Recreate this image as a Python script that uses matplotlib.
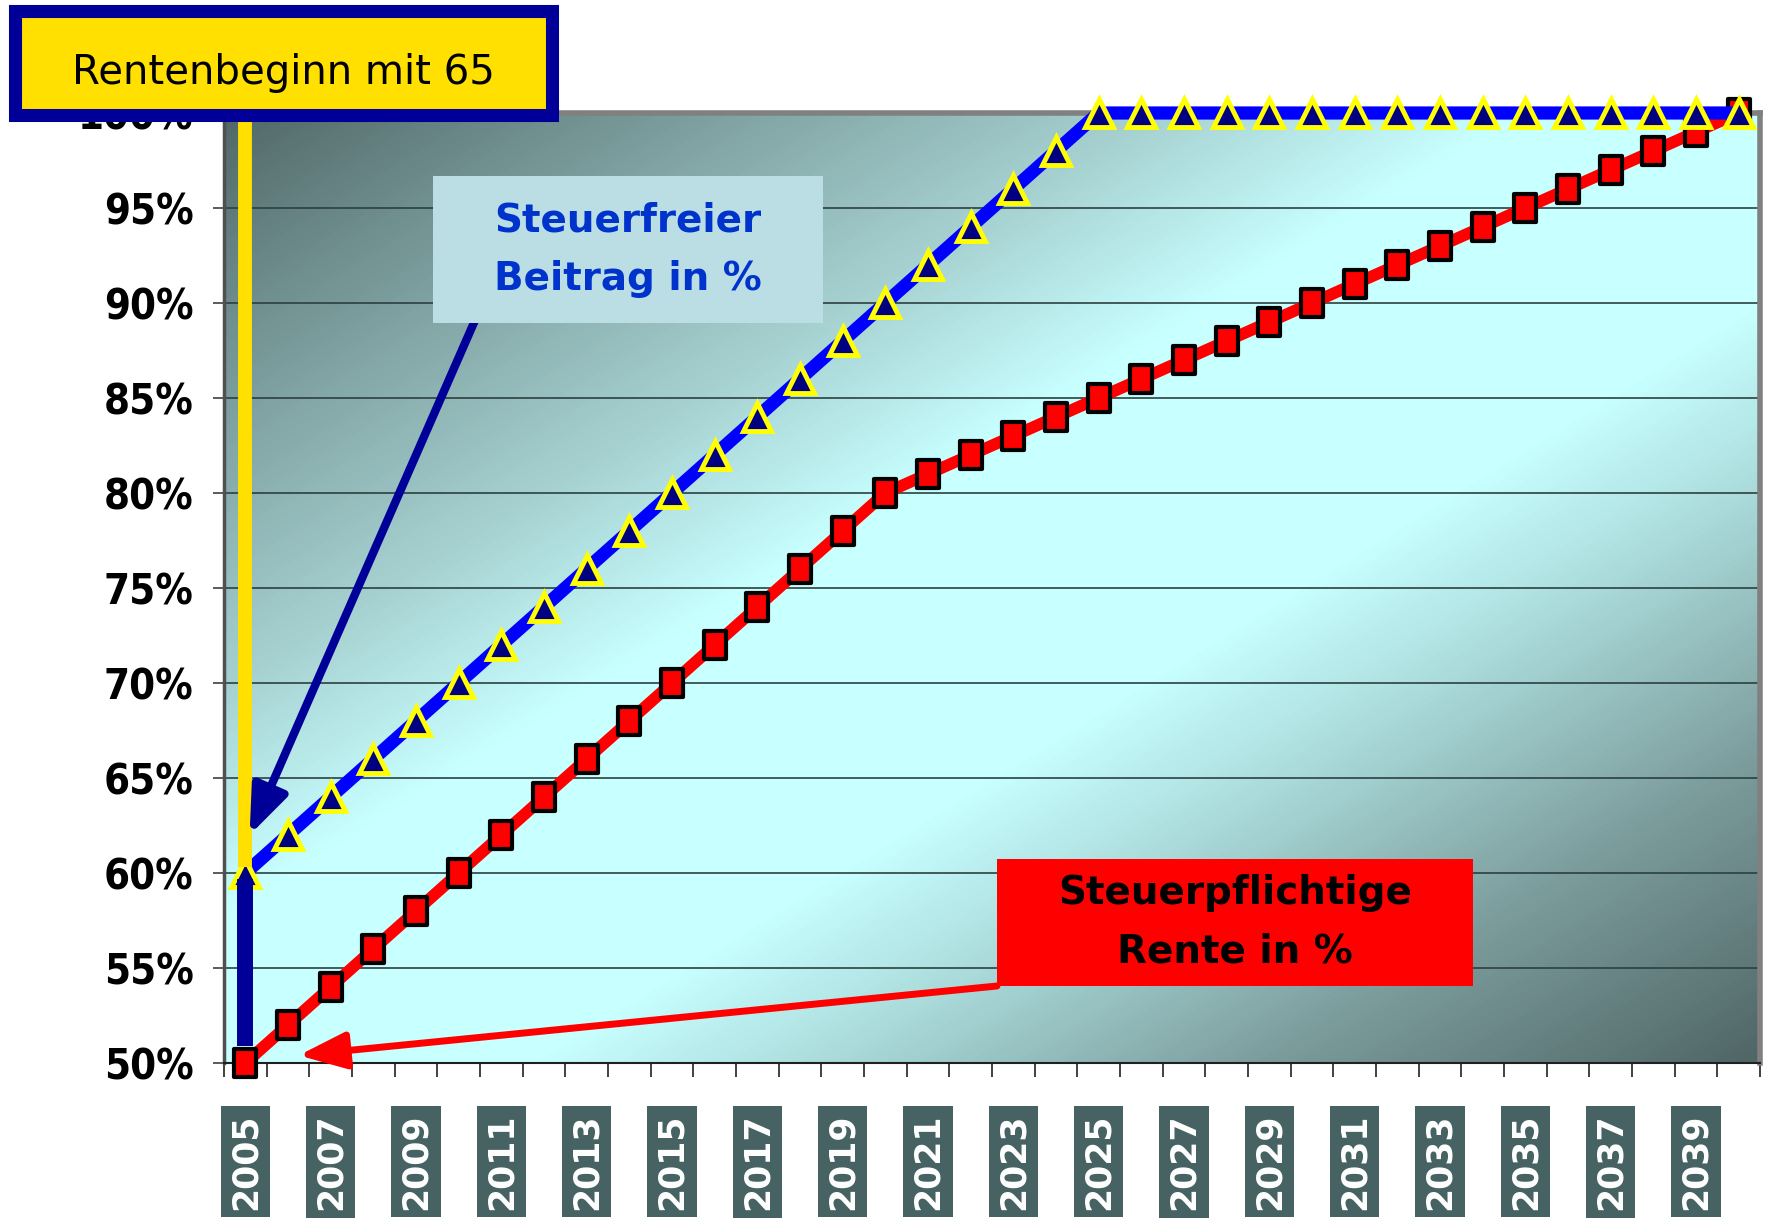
import numpy as np
import matplotlib
matplotlib.use('Agg')
from matplotlib import pyplot as plt
from matplotlib.colors import LinearSegmentedColormap
from matplotlib.patches import Rectangle
from matplotlib.path import Path
import matplotlib.transforms as mtransforms

### chart data
years = list(range(2005, 2041))
# steuerfreier Beitrag in %
beitrag_frei = [60, 62, 64, 66, 68, 70, 72, 74, 76, 78, 80, 82, 84, 86, 88, 90,
                92, 94, 96, 98, 100, 100, 100, 100, 100, 100, 100, 100, 100, 100,
                100, 100, 100, 100, 100, 100]
# steuerpflichtige Rente in %
rente_pflichtig = [50, 52, 54, 56, 58, 60, 62, 64, 66, 68, 70, 72, 74, 76, 78, 80,
                   81, 82, 83, 84, 85, 86, 87, 88, 89, 90, 91, 92, 93, 94, 95, 96,
                   97, 98, 99, 100]
y_ticks = [50, 55, 60, 65, 70, 75, 80, 85, 90, 95, 100]
label_years = years[::2]  # 2005, 2007, ... 2039

W, H = 1776, 1223
fig = plt.figure(figsize=(W / 100, H / 100), dpi=100)
fig.patch.set_facecolor('white')

# plot area in pixels: left 224, right 1760, top 113, bottom 1063
ax = fig.add_axes([224 / W, 1 - 1063 / H, (1760 - 224) / W, (1063 - 113) / H])
ax.set_xlim(years[0] - 0.5, years[-1] + 0.5)
ax.set_ylim(50, 100)

# diagonal gradient background (dark corners, light cyan middle)
grad_cmap = LinearSegmentedColormap.from_list('bg', [
    (0.0, '#526868'), (0.1, '#6e8c8c'), (0.3, '#a6d0d0'), (0.42, '#c8ffff'),
    (0.6, '#c8ffff'), (0.68, '#b0e2e2'), (0.84, '#7c9c9c'), (1.0, '#506666')])
u, v = np.meshgrid(np.linspace(0, 1, 400), np.linspace(0, 1, 300))
ax.imshow((u + v) / 2, cmap=grad_cmap, extent=[0, 1, 0, 1], origin='upper',
          transform=ax.transAxes, aspect='auto', zorder=0, interpolation='bilinear')

# horizontal gridlines
for yv in y_ticks[1:-1]:
    ax.axhline(yv, color='#2c4040', lw=1.2, zorder=1)

# spines
ax.spines['left'].set_color('#505050')
ax.spines['left'].set_linewidth(2.5)
ax.spines['bottom'].set_color('#202020')
ax.spines['bottom'].set_linewidth(1.5)
for s in ['top', 'right']:
    ax.spines[s].set_color('#808080')
    ax.spines[s].set_linewidth(4)

# ticks
ax.set_xticks(np.arange(years[0] - 0.5, years[-1] + 1))
ax.set_xticklabels([])
ax.tick_params(axis='x', direction='out', length=10, width=1.2, color='#202020')
ax.set_yticks(y_ticks)
ax.set_yticklabels([f'{t}%' for t in y_ticks])
ax.tick_params(axis='y', direction='out', length=8, width=1.2, color='#404040', pad=14)
for lbl in ax.get_yticklabels():
    lbl.set_fontfamily(['DejaVu Sans'])
    lbl.set_fontstretch('condensed')
    lbl.set_fontweight('bold')
    lbl.set_fontsize(30)

# x labels in dark boxes, rotated
trans = mtransforms.blended_transform_factory(ax.transData, ax.transAxes)
for yr in label_years:
    ax.text(yr, -0.053, str(yr), transform=trans, rotation=90, ha='center', va='top',
            fontsize=25, fontweight='bold', color='white', family='DejaVu Sans',
            bbox=dict(boxstyle='square,pad=0.22', facecolor='#476262', edgecolor='none'))

# series
rect_marker = Path([(-0.8, -1), (0.8, -1), (0.8, 1), (-0.8, 1), (-0.8, -1)],
                   [Path.MOVETO, Path.LINETO, Path.LINETO, Path.LINETO, Path.CLOSEPOLY])
ax.plot(years, rente_pflichtig, color='#ff0000', lw=8.5, marker=rect_marker,
        markersize=20, markerfacecolor='#ff0000', markeredgecolor='black',
        markeredgewidth=3, zorder=3, clip_on=False)
ax.plot(years, beitrag_frei, color='#0000ff', lw=9.5, marker='^', markersize=20,
        markerfacecolor='#000080', markeredgecolor='#ffff00', markeredgewidth=3.5,
        zorder=4, clip_on=False)

# Rentenbeginn markers at 2005
ax.plot([years[0], years[0]], [60.3, 101.5], color='#ffe000', lw=10,
        solid_capstyle='butt', zorder=5, clip_on=False)
ax.plot([years[0], years[0]], [59.7, 50.9], color='#000099', lw=11.5,
        solid_capstyle='butt', zorder=5, clip_on=False)


def fx(px):
    return px / W


def fy(py):
    return 1 - py / H


# annotation arrows
ax.annotate('', xy=(2005.1, 62.0), xycoords='data',
            xytext=(fx(476), fy(318)), textcoords='figure fraction',
            arrowprops=dict(arrowstyle='-|>,head_length=0.9,head_width=0.35',
                            color='#000099', lw=6, mutation_scale=32,
                            shrinkA=0, shrinkB=0), zorder=6)
ax.annotate('', xy=(2006.25, 50.4), xycoords='data',
            xytext=(fx(997), fy(986)), textcoords='figure fraction',
            arrowprops=dict(arrowstyle='-|>,head_length=0.9,head_width=0.35',
                            color='#ff0000', lw=5, mutation_scale=32,
                            shrinkA=0, shrinkB=0), zorder=6)

# label boxes
fig.patches.append(Rectangle((fx(433), fy(323)), fx(823 - 433), (323 - 176) / H,
                             transform=fig.transFigure, facecolor='#bbdee4',
                             edgecolor='none', zorder=6))
fig.text(fx(628), fy(250), 'Steuerfreier\nBeitrag in %', ha='center', va='center',
         fontsize=28, fontweight='bold', color='#0033cc', linespacing=1.68, zorder=7)

fig.patches.append(Rectangle((fx(997), fy(986)), fx(1473 - 997), (986 - 859) / H,
                             transform=fig.transFigure, facecolor='#ff0000',
                             edgecolor='none', zorder=6))
fig.text(fx(1235), fy(922), 'Steuerpflichtige\nRente in %', ha='center', va='center',
         fontsize=28, fontweight='bold', color='black', linespacing=1.68, zorder=7)

fig.patches.append(Rectangle((fx(14.5), fy(114.5)), fx(551.5 - 14.5), (114.5 - 11.5) / H,
                             transform=fig.transFigure, facecolor='#ffe000',
                             edgecolor='#000099', lw=9.4, zorder=6))
fig.text(fx(283), fy(73), 'Rentenbeginn mit 65', ha='center', va='center',
         fontsize=29, color='black', zorder=7)

fig.savefig('out.png', dpi=100)
